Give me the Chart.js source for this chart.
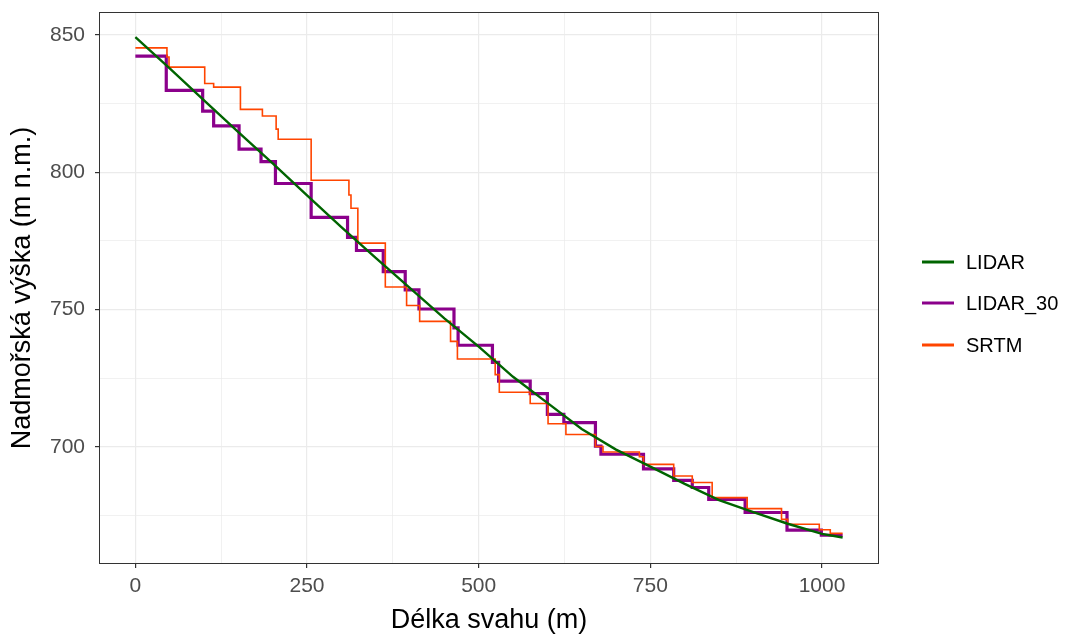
<!DOCTYPE html>
<html>
<head>
<meta charset="utf-8">
<script src="https://cdn.jsdelivr.net/npm/chart.js@4.4.1/dist/chart.umd.min.js"></script>
<style>
  html, body { margin: 0; padding: 0; background: #ffffff; }
  #wrap { width: 1068px; height: 635px; position: relative; }
  canvas { display: block; }
</style>
</head>
<body>
<div id="wrap"><canvas id="profil" width="1068" height="635"></canvas></div>
<script>
// Elevation profile along the slope: distance (m) vs. altitude (m a.s.l.)

// LIDAR (1 m resolution) profile
const lidarX = [0, 50, 100, 150, 200, 250, 300, 350, 400, 450, 500, 550, 600, 650, 700, 750, 800, 850, 900, 950, 1000, 1030];
const lidarY = [849.2, 837.8, 826.2, 814.6, 803.2, 791.6, 780.0, 768.8, 757.8, 746.8, 736.5, 725.5, 716.0, 706.5, 699.0, 692.8, 686.5, 680.6, 676.2, 672.0, 668.3, 667.0];

// LIDAR resampled to 30 m cells (step profile: value holds from x onward)
const lidar30X = [0, 45, 98, 114, 151, 183, 204, 256, 309, 322, 361, 393, 413, 464, 470, 520, 529, 575, 600, 624, 670, 678, 740, 784, 811, 835, 888, 949, 999, 1030];
const lidar30Y = [842.3, 829.8, 822.3, 816.9, 808.4, 803.9, 795.9, 783.6, 776.3, 771.5, 763.8, 757.2, 750.2, 743.3, 737.0, 730.8, 723.9, 719.4, 711.8, 708.8, 700.3, 697.3, 692.0, 687.8, 685.2, 680.9, 676.1, 669.7, 667.8, 667.8];

// SRTM profile (step profile)
const srtmX = [0, 46, 49, 101, 114, 153, 185, 205, 208, 256, 311, 314, 324, 364, 395, 414, 459, 469, 524, 530, 575, 601, 627, 670, 681, 734, 740, 784, 811, 840, 891, 941, 950, 996, 1012, 1030];
const srtmY = [845.3, 842.0, 838.3, 832.3, 831.0, 822.9, 820.5, 815.7, 812.0, 797.1, 791.7, 786.9, 774.2, 758.2, 751.5, 745.7, 738.4, 732.0, 726.3, 719.9, 715.8, 708.4, 704.5, 700.1, 698.1, 696.4, 693.6, 689.4, 687.0, 681.5, 677.5, 673.6, 671.8, 669.8, 668.5, 668.5];

// Axis ticks (major labelled, minor only as grid lines)
const xTicks = [0, 125, 250, 375, 500, 625, 750, 875, 1000];
const xMajor = [0, 250, 500, 750, 1000];
const yTicks = [675, 700, 725, 750, 775, 800, 825, 850];
const yMajor = [700, 750, 800, 850];

const seriesNames = ['LIDAR', 'LIDAR_30', 'SRTM'];
const seriesColors = ['#006400', '#8B008B', '#FF4500'];

const toPoints = (xs, ys) => xs.map((x, i) => ({ x: x, y: ys[i] }));

const FONT = '"Liberation Sans", Arial, Helvetica, sans-serif';

const frameAndLabels = {
  id: 'frameAndLabels',
  afterDatasetsDraw(chart) {
    const { ctx, chartArea: a } = chart;
    ctx.save();
    ctx.strokeStyle = '#333333';
    ctx.lineWidth = 1;
    ctx.strokeRect(a.left - 0.5, a.top - 0.5, a.right - a.left + 1, a.bottom - a.top + 1);
    ctx.restore();
  },
  afterDraw(chart) {
    const { ctx, chartArea: a } = chart;
    ctx.save();
    ctx.fillStyle = '#000000';
    ctx.font = '27px ' + FONT;
    ctx.textAlign = 'center';
    ctx.textBaseline = 'middle';
    ctx.fillText('Délka svahu (m)', (a.left + a.right) / 2, 621);
    ctx.translate(23, (a.top + a.bottom) / 2);
    ctx.rotate(-Math.PI / 2);
    ctx.fillText('Nadmořská výška (m n.m.)', 0, 0);
    ctx.restore();

    // legend
    ctx.save();
    const rows = [262, 303, 345];
    chart.data.datasets.forEach((ds, i) => {
      const y = rows[i];
      ctx.strokeStyle = ds.borderColor;
      ctx.lineWidth = 3;
      ctx.beginPath();
      ctx.moveTo(922, y);
      ctx.lineTo(954, y);
      ctx.stroke();
      ctx.fillStyle = '#000000';
      ctx.font = '20px ' + FONT;
      ctx.textAlign = 'left';
      ctx.textBaseline = 'middle';
      ctx.fillText(ds.label, 966, y + 1);
    });
    ctx.restore();
  }
};

const isMajor = (list) => (c) => c.tick && list.includes(c.tick.value);

new Chart(document.getElementById('profil'), {
  type: 'scatter',
  data: {
    datasets: [
      { label: seriesNames[0], data: toPoints(lidarX, lidarY), borderColor: seriesColors[0], backgroundColor: seriesColors[0], borderWidth: 2.4, showLine: true, pointRadius: 0, order: 0 },
      { label: seriesNames[1], data: toPoints(lidar30X, lidar30Y), borderColor: seriesColors[1], backgroundColor: seriesColors[1], borderWidth: 3.2, showLine: true, stepped: 'before', pointRadius: 0, order: 2 },
      { label: seriesNames[2], data: toPoints(srtmX, srtmY), borderColor: seriesColors[2], backgroundColor: seriesColors[2], borderWidth: 1.6, showLine: true, stepped: 'before', pointRadius: 0, order: 1 }
    ]
  },
  options: {
    responsive: false,
    maintainAspectRatio: false,
    animation: false,
    devicePixelRatio: 1,
    layout: { padding: { left: 0, top: 13, right: 190, bottom: 0 } },
    plugins: { legend: { display: false }, tooltip: { enabled: false } },
    scales: {
      x: {
        type: 'linear',
        min: -51.5,
        max: 1081.5,
        afterBuildTicks: (s) => { s.ticks = xTicks.map(v => ({ value: v })); },
        afterFit: (s) => { s.height = 72; s.paddingLeft = 0; s.paddingRight = 0; },
        ticks: {
          autoSkip: false,
          maxRotation: 0,
          padding: 6,
          color: '#4d4d4d',
          font: { family: FONT, size: 21 },
          callback: (v) => xMajor.includes(v) ? String(v) : ''
        },
        grid: {
          color: '#ebebeb',
          lineWidth: (c) => isMajor(xMajor)(c) ? 1.2 : 0.7,
          tickColor: (c) => isMajor(xMajor)(c) ? '#333333' : 'rgba(0,0,0,0)',
          tickLength: 5
        },
        border: { display: false }
      },
      y: {
        type: 'linear',
        min: 657.7,
        max: 858,
        afterBuildTicks: (s) => { s.ticks = yTicks.map(v => ({ value: v })); },
        afterFit: (s) => { s.width = 100; s.paddingTop = 0; s.paddingBottom = 0; },
        ticks: {
          autoSkip: false,
          padding: 10,
          color: '#4d4d4d',
          font: { family: FONT, size: 21 },
          callback: (v) => yMajor.includes(v) ? String(v) : ''
        },
        grid: {
          color: '#ebebeb',
          lineWidth: (c) => isMajor(yMajor)(c) ? 1.2 : 0.7,
          tickColor: (c) => isMajor(yMajor)(c) ? '#333333' : 'rgba(0,0,0,0)',
          tickLength: 5
        },
        border: { display: false }
      }
    }
  },
  plugins: [frameAndLabels]
});
</script>
</body>
</html>
